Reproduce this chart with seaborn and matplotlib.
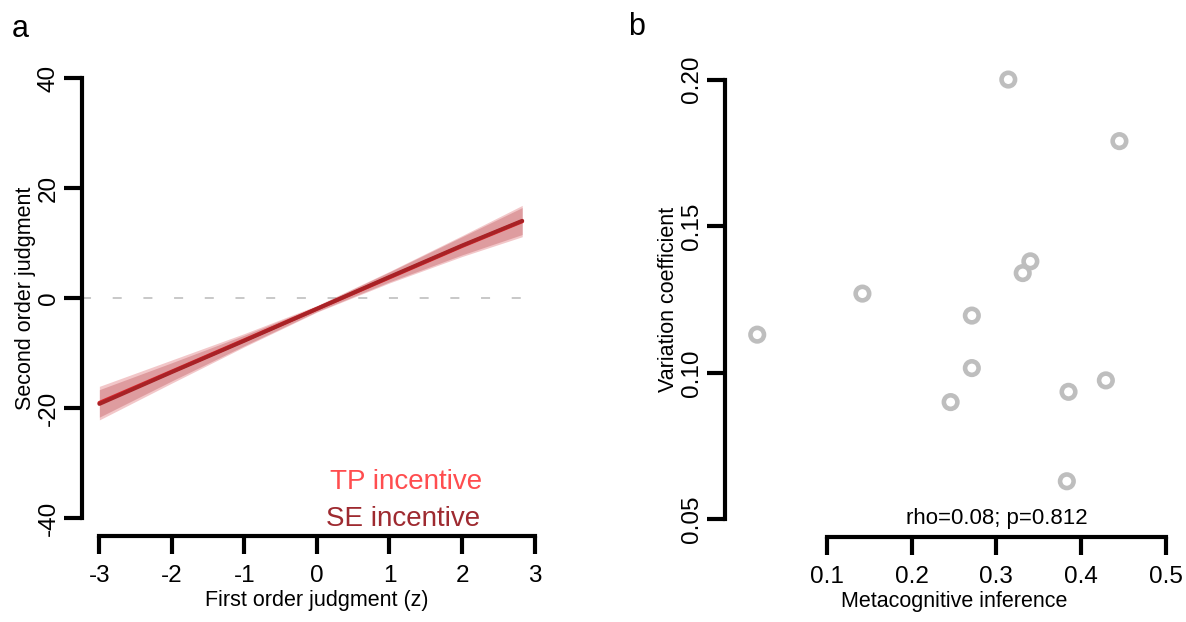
import numpy as np
import pandas as pd
import matplotlib
matplotlib.use('Agg')
import matplotlib.pyplot as plt
import seaborn as sns

# panel a - fitted lines + ci bands
x_fit = [-3, -2, -1, 0, 1, 2, 2.83]
tp_fit = [-19.0, -13.3, -7.6, -1.9, 3.8, 9.5, 14.0]
tp_lo = [-22.1, -15.4, -8.8, -2.5, 2.8, 7.6, 11.2]
tp_hi = [-16.0, -11.2, -6.4, -1.3, 4.9, 11.4, 16.9]
se_fit = [-19.2, -13.4, -7.7, -1.9, 3.9, 9.6, 14.1]
se_lo = [-21.6, -15.0, -8.6, -2.4, 3.0, 7.9, 11.6]
se_hi = [-16.6, -11.7, -6.7, -1.4, 4.8, 11.2, 16.5]

# panel b - metacognitive inference vs variation coefficient
meta_inf = [0.018, 0.142, 0.314, 0.445, 0.340, 0.331, 0.271, 0.271, 0.246, 0.385, 0.429, 0.383]
var_coef = [0.113, 0.127, 0.200, 0.179, 0.138, 0.134, 0.1195, 0.1016, 0.090, 0.0935, 0.0974, 0.063]

tp_col = '#ff4d4f'
se_col = '#9e2a30'

sns.set_theme(style='ticks')
plt.rcParams['font.family'] = ['Liberation Sans', 'DejaVu Sans']
plt.rcParams['axes.unicode_minus'] = False
for k in ['text.color', 'axes.labelcolor', 'xtick.color', 'ytick.color']:
    plt.rcParams[k] = 'black'


def r_axes(ax, xb, yb):
    # base-R look: detached axes, thick lines, big ticks
    ax.spines['top'].set_visible(False)
    ax.spines['right'].set_visible(False)
    ax.spines['left'].set_bounds(*yb)
    ax.spines['bottom'].set_bounds(*xb)
    for s in ['left', 'bottom']:
        ax.spines[s].set_linewidth(3)
        ax.spines[s].set_color('black')
    ax.tick_params(length=13, width=3, direction='out', labelsize=17.5, color='black',
                   labelcolor='black')
    ax.tick_params(axis='x', pad=8)
    ax.tick_params(axis='y', pad=3, labelrotation=90)
    for lab in ax.get_yticklabels():
        lab.set_va('center')


fig = plt.figure(figsize=(11.86, 6.22), dpi=100)
ax1 = fig.add_axes([0.0691, 0.1383, 0.3963, 0.7641])
ax2 = fig.add_axes([0.6113, 0.1367, 0.3862, 0.7637])

# ---- panel a
df = pd.DataFrame({
    'x': x_fit + x_fit,
    'y': tp_fit + se_fit,
    'incentive': ['TP'] * len(x_fit) + ['SE'] * len(x_fit),
})
ax1.hlines(0, -3.24, 3.0, color='#c4c4c4', lw=1.3, ls=(0, (5, 12)), zorder=0)
ax1.fill_between(x_fit, tp_lo, tp_hi, color='#d9565c', alpha=0.33, lw=0)
ax1.fill_between(x_fit, se_lo, se_hi, color='#b03a40', alpha=0.3, lw=0)
sns.lineplot(data=df, x='x', y='y', hue='incentive', palette={'TP': '#d8262b', 'SE': '#a82226'},
             hue_order=['TP', 'SE'], lw=2.8, legend=False, ax=ax1)

ax1.set_xlim(-3.24, 3.24)
ax1.set_ylim(-43.2, 43.2)
ax1.set_xticks([-3, -2, -1, 0, 1, 2, 3])
ax1.set_yticks([-40, -20, 0, 20, 40])
r_axes(ax1, (-3, 3), (-40, 40))
ax1.set_xlabel('First order judgment (z)', fontsize=15.5, labelpad=2)
ax1.set_ylabel('Second order judgment', fontsize=15.5, labelpad=1)

ax1.text(0.18, -34.7, 'TP incentive', color=tp_col, fontsize=20, ha='left', va='baseline')
ax1.text(0.12, -41.4, 'SE incentive', color=se_col, fontsize=20, ha='left', va='baseline')

# ---- panel b
sns.scatterplot(x=meta_inf, y=var_coef, ax=ax2, s=95, marker='o', color='#bebebe',
                facecolor='none', edgecolor='#bebebe', linewidth=3.3)
ax2.set_xlim(-0.02, 0.52)
ax2.set_ylim(0.044, 0.206)
ax2.set_xticks([0.1, 0.2, 0.3, 0.4, 0.5])
ax2.set_xticklabels(['0.1', '0.2', '0.3', '0.4', '0.5'])
ax2.set_yticks([0.05, 0.10, 0.15, 0.20])
ax2.set_yticklabels(['0.05', '0.10', '0.15', '0.20'])
r_axes(ax2, (0.1, 0.5), (0.05, 0.20))
ax2.set_xlabel('Metacognitive inference', fontsize=15.5, labelpad=2)
ax2.set_ylabel('Variation coefficient', fontsize=15.5, labelpad=1)
ax2.text(0.3, 0.0483, 'rho=0.08; p=0.812', fontsize=16, ha='center', va='baseline')

fig.text(0.010, 0.940, 'a', fontsize=22, va='baseline')
fig.text(0.5295, 0.943, 'b', fontsize=22, va='baseline')

fig.savefig('out.png', dpi=100)
